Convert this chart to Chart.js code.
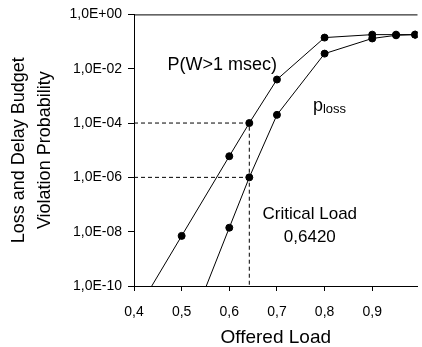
<!DOCTYPE html>
<html lang="en">
<head>
<meta charset="UTF-8">
<title>Loss and Delay Budget Violation</title>
<script src="https://cdn.jsdelivr.net/npm/chart.js"></script>
<style>
  html, body { margin: 0; padding: 0; background: #fff; }
  #wrap { width: 422px; height: 347px; }
</style>
</head>
<body>
<div id="wrap"><canvas id="chart"></canvas></div>
<script>
// offered load values and the two measured curves
const loadsDelay = [0.4, 0.5, 0.6, 0.642, 0.7, 0.8, 0.9, 0.95, 0.99];
const delayViolation = [8e-12, 7e-9, 6e-6, 1e-4, 4e-3, 0.14, 0.18, 0.18, 0.18];

const loadsLoss = [0.5, 0.6, 0.642, 0.7, 0.8, 0.9, 0.95, 0.99];
const lossProb = [5e-13, 1.4e-8, 1e-6, 2e-4, 0.036, 0.13, 0.17, 0.18];

const criticalLoad = 0.642;
const criticalDelay = 1e-4;
const criticalLoss = 1e-6;

const xTicks = [0.4, 0.5, 0.6, 0.7, 0.8, 0.9];
const yTicks = [1e-10, 1e-8, 1e-6, 1e-4, 1e-2, 1];

function pts(xs, ys) {
  return xs.map((x, i) => ({x: x, y: ys[i]}));
}

function sciLabel(v) {
  const e = Math.round(Math.log10(v));
  const s = e < 0 ? '-' : '+';
  return '1,0E' + s + String(Math.abs(e)).padStart(2, '0');
}

const FONT = '"Liberation Sans", Arial, sans-serif';

// frame top line and the text labels inside the plot
const extras = {
  id: 'extras',
  afterDatasetsDraw(chart) {
    const {ctx, chartArea, scales} = chart;
    const x = scales.x, y = scales.y;
    ctx.save();
    ctx.strokeStyle = '#000';
    ctx.lineWidth = 1;
    ctx.beginPath();
    ctx.moveTo(chartArea.left, chartArea.top + 0.5);
    ctx.lineTo(chartArea.right, chartArea.top + 0.5);
    ctx.stroke();

    ctx.fillStyle = '#000';
    ctx.textAlign = 'center';
    ctx.textBaseline = 'middle';
    ctx.font = '18px ' + FONT;
    ctx.fillText('P(W>1 msec)', x.getPixelForValue(0.585), y.getPixelForValue(Math.pow(10, -1.85)));

    ctx.font = '17px ' + FONT;
    ctx.fillText('Critical Load', x.getPixelForValue(0.769), y.getPixelForValue(Math.pow(10, -7.36)));
    ctx.fillText('0,6420', x.getPixelForValue(0.769), y.getPixelForValue(Math.pow(10, -8.2)));

    ctx.textAlign = 'left';
    ctx.textBaseline = 'alphabetic';
    const px = x.getPixelForValue(0.7755);
    const py = y.getPixelForValue(Math.pow(10, -3.55));
    ctx.font = '18px ' + FONT;
    ctx.fillText('p', px, py);
    const w = ctx.measureText('p').width;
    ctx.font = '13px ' + FONT;
    ctx.fillText('loss', px + w, py + 2);
    ctx.restore();
  }
};

const lineStyle = {
  borderColor: '#000',
  backgroundColor: '#000',
  borderWidth: 1,
  pointRadius: 3.5,
  pointHoverRadius: 3.5,
  pointBackgroundColor: '#000',
  showLine: true,
  tension: 0
};

const dashStyle = {
  borderColor: '#000',
  borderWidth: 1,
  borderDash: [4, 3],
  pointRadius: 0,
  showLine: true,
  tension: 0
};

new Chart(document.getElementById('chart'), {
  type: 'scatter',
  data: {
    datasets: [
      Object.assign({label: 'delay marker', data: [
        {x: 0.4, y: criticalDelay}, {x: criticalLoad, y: criticalDelay}, {x: criticalLoad, y: 1e-10}
      ]}, dashStyle),
      Object.assign({label: 'loss marker', data: [
        {x: 0.4, y: criticalLoss}, {x: criticalLoad, y: criticalLoss}
      ]}, dashStyle),
      Object.assign({label: 'P(W>1 msec)', data: pts(loadsDelay, delayViolation)}, lineStyle),
      Object.assign({label: 'ploss', data: pts(loadsLoss, lossProb)}, lineStyle)
    ]
  },
  options: {
    responsive: true,
    maintainAspectRatio: false,
    animation: false,
    events: [],
    layout: {padding: {top: 13, right: 0, left: 0, bottom: 0}},
    plugins: {legend: {display: false}, tooltip: {enabled: false}},
    scales: {
      x: {
        type: 'linear',
        min: 0.4,
        max: 0.995,
        afterBuildTicks: s => { s.ticks = xTicks.map(v => ({value: v})); },
        afterFit: s => { s.height = 61; },
        grid: {drawOnChartArea: false, color: '#000', tickLength: 5},
        border: {color: '#000', width: 1},
        ticks: {
          color: '#000',
          padding: 13,
          maxRotation: 0,
          font: {family: FONT, size: 14},
          callback: v => v.toFixed(1).replace('.', ',')
        },
        title: {
          display: true,
          text: 'Offered Load',
          color: '#000',
          padding: {top: 0, bottom: 0},
          font: {family: FONT, size: 19, lineHeight: 1}
        }
      },
      y: {
        type: 'logarithmic',
        min: 1e-10,
        max: 1,
        afterBuildTicks: s => { s.ticks = yTicks.map(v => ({value: v})); },
        afterFit: s => { s.width = 134; },
        grid: {drawOnChartArea: false, color: '#000', tickLength: 6},
        border: {color: '#000', width: 1},
        ticks: {
          color: '#000',
          padding: 6,
          font: {family: FONT, size: 14},
          callback: v => sciLabel(v)
        },
        title: {
          display: true,
          text: ['Loss and Delay Budget', 'Violation Probability'],
          color: '#000',
          padding: {top: 6, bottom: 0},
          font: {family: FONT, size: 18, lineHeight: 1.45}
        }
      }
    }
  },
  plugins: [extras]
});
</script>
</body>
</html>
